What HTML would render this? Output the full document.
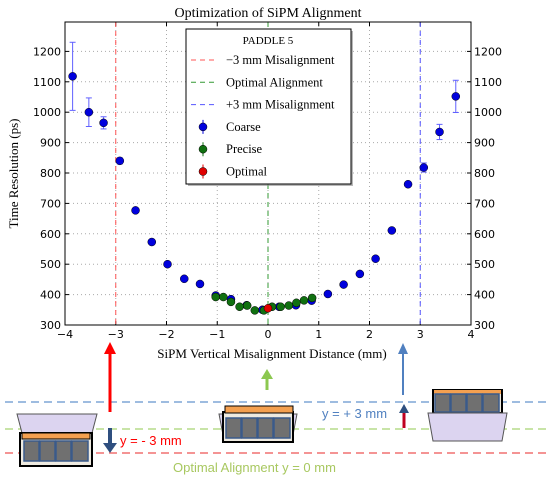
<!DOCTYPE html>
<html><head><meta charset="utf-8"><style>
body{margin:0;background:#fff;}
svg{display:block;}
.tk{font-family:"DejaVu Sans","Liberation Sans",sans-serif;font-size:11px;fill:#000;}
.sf{font-family:"Liberation Serif",serif;fill:#000;}
</style></head><body>
<svg id="c" width="547" height="479" viewBox="0 0 547 479">
<g id="plot"></g>
<g>
  <line x1="5" y1="402" x2="547" y2="402" stroke="#7ea6d6" stroke-width="1.5" stroke-dasharray="8,5"/>
  <line x1="5" y1="429" x2="547" y2="429" stroke="#b6dc8a" stroke-width="1.5" stroke-dasharray="8,5"/>
  <line x1="5" y1="453" x2="547" y2="453" stroke="#f07070" stroke-width="1.5" stroke-dasharray="8,5"/>
  <polygon points="17,414 97,414 92,433 22,433" fill="#dcd4f0" stroke="#555"/>
  <rect x="20" y="433" width="72" height="33" fill="#eeeae0" stroke="#000" stroke-width="2"/>
  <rect x="22" y="433" width="68" height="6" fill="#f4a050" stroke="#000"/>
  <g fill="#707070" stroke="#3a5a8a" stroke-width="1.5">
    <rect x="24" y="441" width="15" height="20"/><rect x="40" y="441" width="15" height="20"/><rect x="56" y="441" width="15" height="20"/><rect x="72" y="441" width="16" height="20"/>
  </g>
  <polygon points="219,414 297,414 292,440 224,440" fill="#dcd4f0" stroke="#555"/>
  <rect x="223" y="412" width="70" height="30" fill="#eeeae0" stroke="#000" stroke-width="2"/>
  <rect x="225" y="406" width="68" height="7" fill="#f4a050" stroke="#000"/>
  <g fill="#707070" stroke="#3a5a8a" stroke-width="1.5">
    <rect x="226" y="418" width="15" height="20"/><rect x="242" y="418" width="15" height="20"/><rect x="258" y="418" width="15" height="20"/><rect x="274" y="418" width="16" height="20"/>
  </g>
  <rect x="433" y="390" width="69" height="23" fill="#eeeae0" stroke="#000" stroke-width="2"/>
  <rect x="434" y="390" width="67" height="4" fill="#f4a050"/>
  <g fill="#707070" stroke="#3a5a8a" stroke-width="1.5">
    <rect x="435" y="394" width="15" height="18"/><rect x="451" y="394" width="15" height="18"/><rect x="467" y="394" width="15" height="18"/><rect x="483" y="394" width="16" height="18"/>
  </g>
  <polygon points="428,413 507,413 502,441 433,441" fill="#dcd4f0" stroke="#555"/>
  <line x1="110" y1="412" x2="110" y2="352" stroke="#f00" stroke-width="3"/>
  <polygon points="104,354 116,354 110,342" fill="#f00"/>
  <line x1="110" y1="428" x2="110" y2="444" stroke="#2f4f7f" stroke-width="4"/>
  <polygon points="103,443 117,443 110,453" fill="#2f4f7f"/>
  <line x1="267" y1="390" x2="267" y2="378" stroke="#8cc850" stroke-width="3"/>
  <polygon points="261,379 273,379 267,369" fill="#8cc850"/>
  <line x1="403" y1="395" x2="403" y2="352" stroke="#5080c0" stroke-width="2"/>
  <polygon points="398,354 408,354 403,343" fill="#5080c0"/>
  <line x1="404" y1="428" x2="404" y2="412" stroke="#c00020" stroke-width="3"/>
  <polygon points="399,413 409,413 404,404" fill="#2f4f7f"/>
  <text x="120" y="445" font-family="Liberation Sans,sans-serif" font-size="13" fill="#f00">y = - 3 mm</text>
  <text x="322" y="418" font-family="Liberation Sans,sans-serif" font-size="13" fill="#5080c0">y = + 3 mm</text>
  <text x="173" y="472" font-family="Liberation Sans,sans-serif" font-size="13" fill="#a8c860">Optimal Alignment y = 0 mm</text>
</g>
</svg>
<script>
const coarseX=[-3.85,-3.53,-3.24,-2.92,-2.61,-2.29,-1.98,-1.65,-1.34,-1.03,-0.73,-0.42,-0.11,0.22,0.55,0.86,1.18,1.49,1.81,2.12,2.44,2.76,3.07,3.38,3.70];
const coarseY=[1118,1000,965,840,677,573,500,452,435,397,385,365,350,360,365,380,402,433,468,518,611,763,818,935,1052];
const coarseErr=[112,47,20,10,5,5,5,5,5,5,5,5,5,5,5,5,5,5,5,5,5,5,15,25,53];
const preciseX=[-1.03,-0.88,-0.73,-0.56,-0.41,-0.26,-0.08,0.08,0.25,0.41,0.56,0.71,0.87];
const preciseY=[392,392,376,360,364,348,348,360,360,364,373,381,389];
const optimalX=[0.0];
const optimalY=[355];
const xTicks=[-4,-3,-2,-1,0,1,2,3,4];
const yTicks=[300,400,500,600,700,800,900,1000,1100,1200];
const L=65,R=471,T=22,B=325;
const sx=v=>L+(v+4)/8*(R-L);
const sy=v=>B-(v-300)/100*30.4;
const NS='http://www.w3.org/2000/svg';
const g=document.getElementById('plot');
function mk(t,a,p){const e=document.createElementNS(NS,t);for(const k in a)e.setAttribute(k,a[k]);(p||g).appendChild(e);return e;}
xTicks.forEach(t=>{if(t>-4&&t<4){const l=mk('line',{x1:sx(t),x2:sx(t),y1:T,y2:B,stroke:'#aaa','stroke-dasharray':'1,3'});

}
const tx=mk('text',{x:sx(t),y:B+13,'text-anchor':'middle',class:'tk'});tx.textContent=(t<0?'\u2212'+(-t):t);


mk('line',{x1:sx(t),x2:sx(t),y1:B,y2:B-4,stroke:'#000'});mk('line',{x1:sx(t),x2:sx(t),y1:T,y2:T+4,stroke:'#000'});});
yTicks.forEach(t=>{if(t>300){const l=mk('line',{x1:L,x2:R,y1:sy(t),y2:sy(t),stroke:'#aaa','stroke-dasharray':'1,3'});

}
const a=mk('text',{x:L-4,y:sy(t)+4,'text-anchor':'end',class:'tk'});a.textContent=t;


const b=mk('text',{x:R+3,y:sy(t)+4,class:'tk'});b.textContent=t;


mk('line',{x1:L,x2:L+4,y1:sy(t),y2:sy(t),stroke:'#000'});mk('line',{x1:R,x2:R-4,y1:sy(t),y2:sy(t),stroke:'#000'});});
[[-3,'#f55'],[0,'#393'],[3,'#55f']].forEach(([v,c])=>{const l=mk('line',{x1:sx(v),x2:sx(v),y1:T,y2:B,stroke:c,'stroke-dasharray':'5,4','stroke-width':1});

});
function series(xs,ys,errs,fill,ecol,name){xs.forEach((x,i)=>{const e=errs?errs[i]:4;
mk('line',{x1:sx(x),x2:sx(x),y1:sy(ys[i]-e),y2:sy(ys[i]+e),stroke:ecol});
mk('line',{x1:sx(x)-3,x2:sx(x)+3,y1:sy(ys[i]-e),y2:sy(ys[i]-e),stroke:ecol});
mk('line',{x1:sx(x)-3,x2:sx(x)+3,y1:sy(ys[i]+e),y2:sy(ys[i]+e),stroke:ecol});
const c=mk('circle',{cx:sx(x),cy:sy(ys[i]),r:4,fill:fill,stroke:'#000','stroke-width':0.5});

});}
series(coarseX,coarseY,coarseErr,'#0000dd','#6060ff','coarse-point');
series(preciseX,preciseY,null,'#107010','#50a050','precise-point');
series(optimalX,optimalY,null,'#e00000','#f06060','optimal-point');
const fr=mk('rect',{x:L,y:T,width:R-L,height:B-T,fill:'none',stroke:'#000'});


const ti=mk('text',{x:268,y:17,'text-anchor':'middle',class:'sf','font-size':14});ti.textContent='Optimization of SiPM Alignment';


const xl=mk('text',{x:272,y:358,'text-anchor':'middle',class:'sf','font-size':13});xl.textContent='SiPM Vertical Misalignment Distance (mm)';


const yl=mk('text',{x:0,y:0,'text-anchor':'middle',class:'sf','font-size':13,transform:'translate(18,'+((T+B)/2)+') rotate(-90)'});yl.textContent='Time Resolution (ps)';


const lg=mk('g',{});


mk('rect',{x:188,y:31,width:165,height:155,fill:'#888',opacity:0.6},lg);
mk('rect',{x:186,y:29,width:165,height:155,fill:'#fff',stroke:'#000'},lg);
const lt=mk('text',{x:268,y:44,'text-anchor':'middle',class:'sf','font-size':11},lg);lt.textContent='PADDLE 5';
const items=[['line','#f55','\u22123 mm Misalignment'],['line','#393','Optimal Alignment'],['line','#55f','+3 mm Misalignment'],['pt','#0000dd','Coarse'],['pt','#107010','Precise'],['pt','#e00000','Optimal']];
items.forEach((it,i)=>{const y=60+i*22.3;
if(it[0]=='line')mk('line',{x1:191,x2:217,y1:y,y2:y,stroke:it[1],'stroke-dasharray':'5,4'},lg);
else{mk('line',{x1:203,x2:203,y1:y-7,y2:y+7,stroke:it[1]},lg);mk('circle',{cx:203,cy:y,r:4,fill:it[1],stroke:'#000','stroke-width':0.5},lg);}
const t=mk('text',{x:226,y:y+4,class:'sf','font-size':12.5},lg);t.textContent=it[2];

});
</script>
</body></html>
